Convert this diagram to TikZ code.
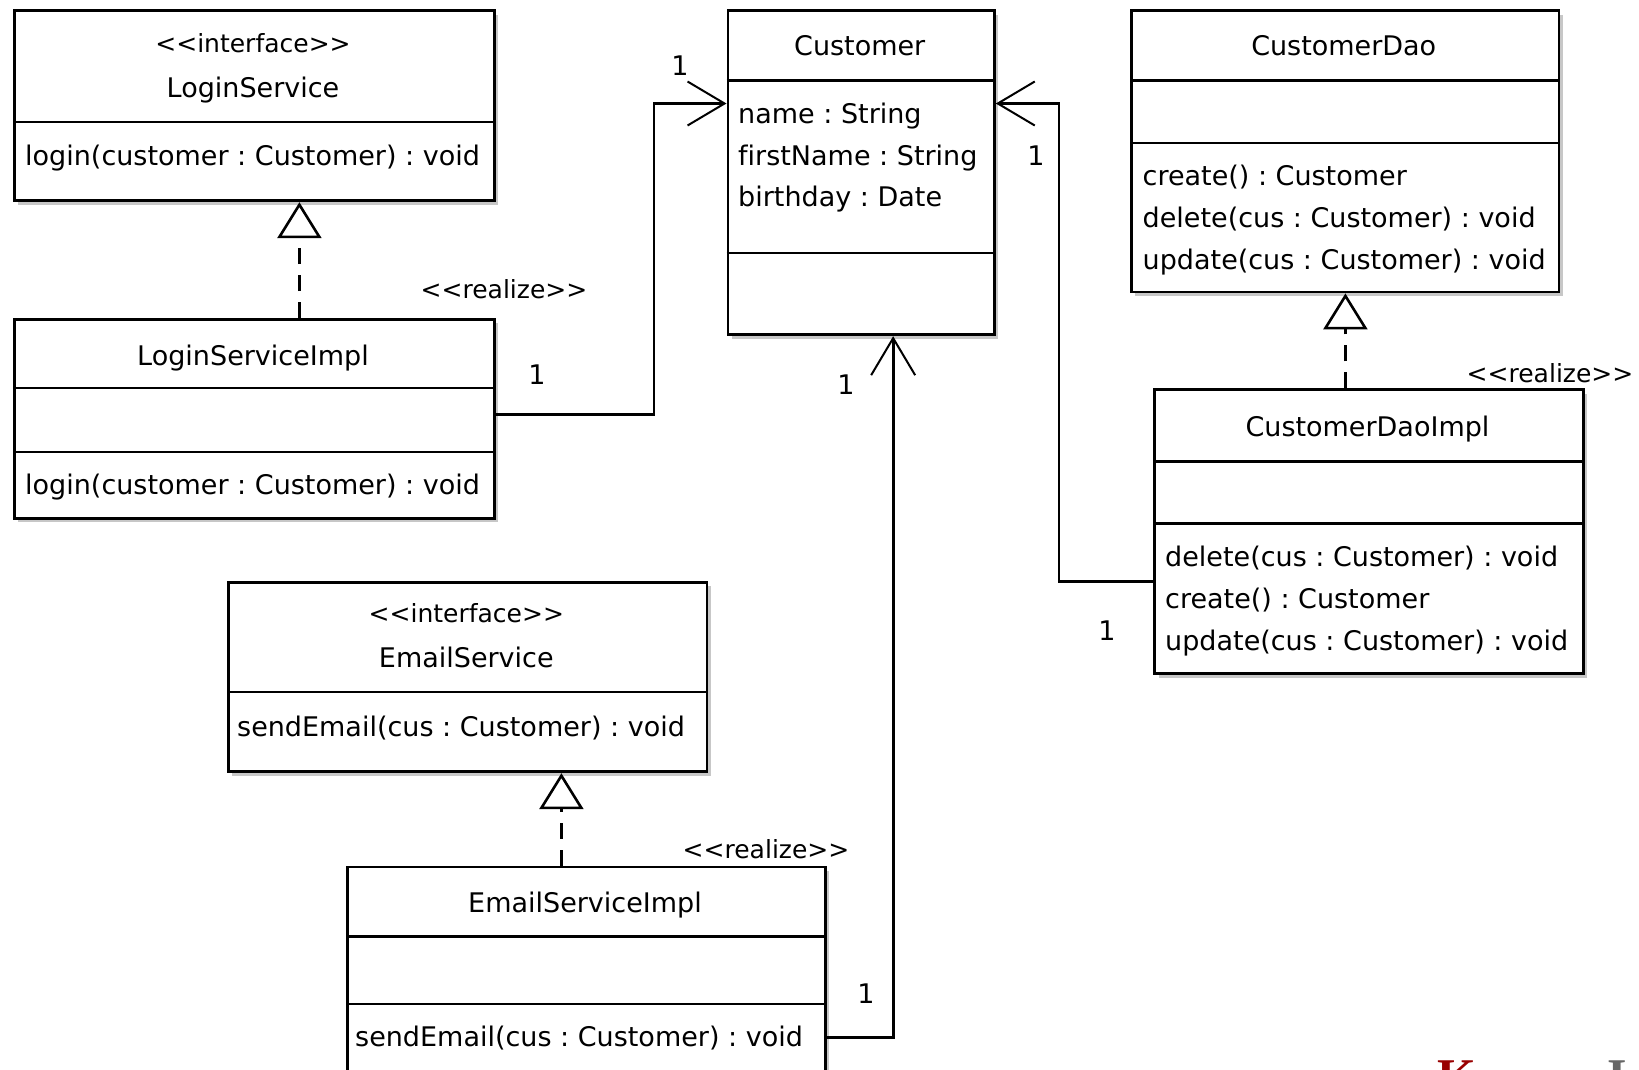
\documentclass[tikz,border=0pt]{standalone}
\usepackage{fontspec}
\setmainfont{DejaVu Sans}[Ligatures={TeXOff,CommonOff}]
\newfontfamily\wmfont{Liberation Serif}
\usetikzlibrary{arrows.meta,shadows}
\frenchspacing
\begin{document}
\begin{tikzpicture}[x=1pt,y=-1pt,
  umlbox/.style={draw=black, line width=2.8pt, fill=white, rectangle, inner sep=0pt,
    anchor=north west,
    drop shadow={shadow xshift=4pt, shadow yshift=-4pt, fill=black!22, opacity=1}},
  divider/.style={line width=2.8pt},
  txt/.style={font=\fontsize{27}{30}\selectfont, inner sep=0pt, anchor=base},
  stereo/.style={font=\fontsize{25}{28}\selectfont, inner sep=0pt, anchor=base},
  ltxt/.style={txt, anchor=base west},
  mult/.style={font=\fontsize{27}{30}\selectfont, inner sep=0pt, anchor=center},
  assoc/.style={line width=2.8pt,
    -{Straight Barb[length=37pt, width=44pt, line width=2pt]}},
  realize/.style={line width=2.8pt, dash pattern=on 16pt off 11pt,
    -{Triangle[length=36pt, width=44pt, fill=white, line width=2.6pt]}}
]
% canvas
\fill[white] (0,0) rectangle (1639,1069);
\useasboundingbox (0,0) rectangle (1639,1069);

% ---------- LoginService ----------
\node[umlbox, minimum width=480pt, minimum height=190pt] (ls) at (13,9.4) {};
\draw[divider] (13,122) -- (493,122);
\node[stereo] (lsst) at (253,52) {<<interface>>};
\node[txt] (lsname) at (253,97) {LoginService};
\node[ltxt] (lsop) at (25,165) {login(customer : Customer) : void};

% ---------- LoginServiceImpl ----------
\node[umlbox, minimum width=480pt, minimum height=199pt] (lsi) at (13,318) {};
\draw[divider] (13,388) -- (493,388);
\draw[divider] (13,452) -- (493,452);
\node[txt] (lsiname) at (253,365) {LoginServiceImpl};
\node[ltxt] (lsiop) at (25,494) {login(customer : Customer) : void};

% ---------- Customer ----------
\node[umlbox, minimum width=266.5pt, minimum height=324pt] (cust) at (726.5,9.4) {};
\draw[divider] (726.5,80.5) -- (993,80.5);
\draw[divider] (726.5,253) -- (993,253);
\node[txt] (custname) at (859.75,55) {Customer};
\node[ltxt] (custa1) at (738,123) {name : String};
\node[ltxt] (custa2) at (738,165) {firstName : String};
\node[ltxt] (custa3) at (738,206.6) {birthday : Date};

% ---------- CustomerDao ----------
\node[umlbox, minimum width=427.5pt, minimum height=281.2pt] (cd) at (1130,9.4) {};
\draw[divider] (1130,80.5) -- (1557.5,80.5);
\draw[divider] (1130,143) -- (1557.5,143);
\node[txt] (cdname) at (1343.75,55) {CustomerDao};
\node[ltxt] (cdop1) at (1142.5,185.6) {create() : Customer};
\node[ltxt] (cdop2) at (1142.5,227.4) {delete(cus : Customer) : void};
\node[ltxt] (cdop3) at (1142.5,269.2) {update(cus : Customer) : void};

% ---------- CustomerDaoImpl ----------
\node[umlbox, minimum width=428.4pt, minimum height=284pt] (cdi) at (1153.3,388.3) {};
\draw[divider] (1153.3,461.7) -- (1581.7,461.7);
\draw[divider] (1153.3,523.3) -- (1581.7,523.3);
\node[txt] (cdiname) at (1367.5,436.7) {CustomerDaoImpl};
\node[ltxt] (cdiop1) at (1165,566.7) {delete(cus : Customer) : void};
\node[ltxt] (cdiop2) at (1165,608.3) {create() : Customer};
\node[ltxt] (cdiop3) at (1165,650) {update(cus : Customer) : void};

% ---------- EmailService ----------
\node[umlbox, minimum width=478.6pt, minimum height=189.4pt] (es) at (227,581) {};
\draw[divider] (227,692) -- (705.6,692);
\node[stereo] (esst) at (466.3,622.5) {<<interface>>};
\node[txt] (esname) at (466.3,667.5) {EmailService};
\node[ltxt] (esop) at (237,736.5) {sendEmail(cus : Customer) : void};

% ---------- EmailServiceImpl ----------
\node[umlbox, minimum width=478pt, minimum height=215pt] (esi) at (346,865.5) {};
\draw[divider] (346,936.6) -- (824,936.6);
\draw[divider] (346,1004) -- (824,1004);
\node[txt] (esiname) at (585,912) {EmailServiceImpl};
\node[ltxt] (esiop) at (355,1046) {sendEmail(cus : Customer) : void};

% ---------- realizations ----------
\draw[realize] ([xshift=45pt]lsi.north) -- ([xshift=45pt]ls.south);
\draw[realize] ([xshift=-23.5pt]cdi.north) -- ([xshift=-23.5pt]cdi.north |- cd.south);
\draw[realize] ([xshift=-25pt]esi.north) -- ([xshift=-25pt]esi.north |- es.south);
\node[stereo] (rl1) at (504,298) {<<realize>>};
\node[stereo] (rl2) at (1550,382) {<<realize>>};
\node[stereo] (rl3) at (766,858) {<<realize>>};

% ---------- associations ----------
\coordinate (bendA) at (654,103.5);
\coordinate (bendB) at (1059,103.5);
\draw[assoc] ([yshift=4.5pt]lsi.east) -| (bendA) -- (bendA -| cust.west);
\draw[assoc] ([yshift=-49.7pt]cdi.west) -| (bendB) -- (bendB -| cust.east);
\draw[assoc] ([yshift=-63pt]esi.east) -| ([xshift=32pt]cust.south);

\node[mult] (m1) at (680,66) {1};
\node[mult] (m2) at (537,375) {1};
\node[mult] (m3) at (1036,156) {1};
\node[mult] (m4) at (1107,631) {1};
\node[mult] (m5) at (846,385) {1};
\node[mult] (m6) at (866,994) {1};

% ---------- footer lettering, cut by the page edge ----------
\node[font=\wmfont\bfseries\fontsize{50}{56}\selectfont, text={rgb,255:red,153;green,0;blue,0},
  inner sep=0pt, anchor=base west] (wmk) at (1437,1093) {K};
\node[font=\wmfont\bfseries\fontsize{50}{56}\selectfont, text=black!60,
  inner sep=0pt, anchor=base west] (wmi) at (1607,1093) {I};
\end{tikzpicture}
\end{document}
